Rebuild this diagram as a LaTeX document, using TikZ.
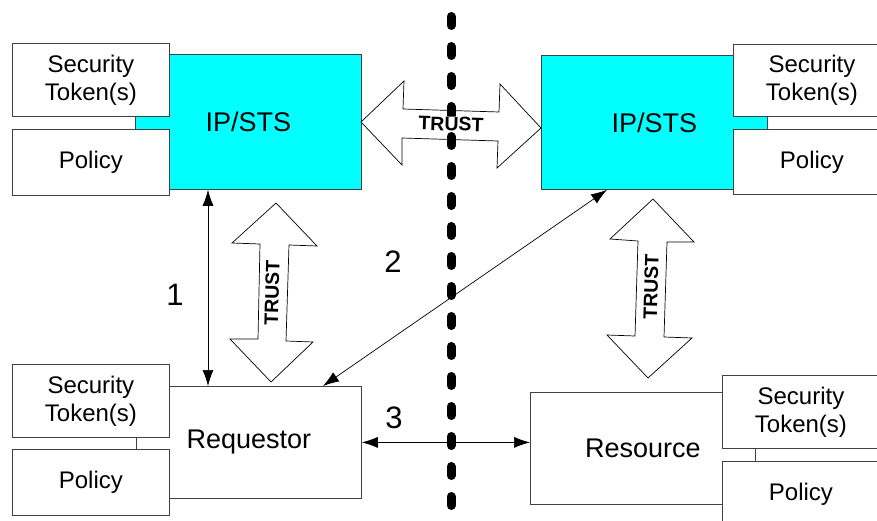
\documentclass[tikz,border=0pt]{standalone}
\usepackage{fontspec}
\setmainfont{Liberation Sans}
\usetikzlibrary{arrows.meta,calc}
\definecolor{stscyan}{RGB}{0,255,255}
\definecolor{edgegray}{RGB}{64,64,64}
\begin{document}
\begin{tikzpicture}[x=1pt,y=-1pt,
  box/.style={draw=edgegray, line width=0.8pt, fill=white, inner sep=0pt, anchor=north west},
  sts/.style={box, fill=stscyan},
  small/.style={font=\fontsize{24}{28}\selectfont, align=center},
  big/.style={font=\fontsize{27}{32}\selectfont},
  conn/.style={line width=0.7pt, {Latex[length=16pt,width=11pt]}-{Latex[length=16pt,width=11pt]}},
  trust/.style={draw=black, line width=0.7pt, fill=white, line join=miter},
  trusttext/.style={font=\bfseries\fontsize{19.5}{22}\selectfont, fill=white, inner sep=0.5pt},
  num/.style={font=\fontsize{31}{34}\selectfont}]

\useasboundingbox (0,0) rectangle (877,521);

% main boxes
\node[sts, big, minimum width=226pt, minimum height=135pt] (ipl) at (135,54) {IP/STS};
\node[sts, big, minimum width=226pt, minimum height=134pt] (ipr) at (541,55) {IP/STS};
\node[box, big, minimum width=225pt, minimum height=112pt] (req) at (136,386) {Requestor};
\node[box, big, minimum width=225pt, minimum height=112pt] (res) at (530,392) {Resource};

% side boxes
\node[box, small, minimum width=157pt, minimum height=73pt] (tokl) at (12,43) {Security\\Token(s)};
\node[box, small, minimum width=157pt, minimum height=66pt] (poll) at (12,129) {Policy};
\node[box, small, minimum width=157pt, minimum height=72pt] (tokr) at (733,44) {Security\\Token(s)};
\node[box, small, minimum width=157pt, minimum height=65pt] (polr) at (733,129) {Policy};
\node[box, small, minimum width=157pt, minimum height=73pt] (tokq) at (12,364) {Security\\Token(s)};
\node[box, small, minimum width=157pt, minimum height=66pt] (polq) at (12,449) {Policy};
\node[box, small, minimum width=157pt, minimum height=73pt] (toks) at (722,375) {Security\\Token(s)};
\node[box, small, minimum width=157pt, minimum height=66pt] (pols) at (722,461) {Policy};

% trust arrows
\draw[trust] (361,122) -- (404,81) -- (403,109) -- (499,112) -- (500,84) -- (541,128)
  -- (497,168) -- (498,141) -- (402,138) -- (402,165) -- cycle;
\draw[trust] (276,203) -- (317,246) -- (289,245) -- (286,341) -- (313,342) -- (271,382)
  -- (230,339) -- (258,339) -- (260,244) -- (232,243) -- cycle;
\draw[trust] (653,199) -- (694,242) -- (667,242) -- (664,337) -- (692,338) -- (648,378)
  -- (607,335) -- (635,336) -- (638,241) -- (610,239) -- cycle;

% boundary
\draw[line width=9pt, line cap=round, dash pattern=on 9pt off 21pt] (451,16.5) -- (451,521);

% trust labels
\node[trusttext, rotate=-1.8] (t0) at (451,124) {TRUST};
\node[trusttext, rotate=88.5] (t1) at (272,293) {TRUST};
\node[trusttext, rotate=88.3] (t2) at (651,287) {TRUST};

% connectors
\coordinate (x1) at (208,0);
\coordinate (x2a) at (323,0);
\coordinate (x2b) at (607,0);
\draw[conn] (ipl.south -| x1) -- (req.north -| x1);
\draw[conn] (req.north -| x2a) -- (ipr.south -| x2b);
\draw[conn] (req.east) -- (req.east -| res.west);

% numbers
\node[num] (n1) at (175,295) {1};
\node[num] (n2) at (393,262) {2};
\node[num] (n3) at (394,418) {3};
\end{tikzpicture}
\end{document}
